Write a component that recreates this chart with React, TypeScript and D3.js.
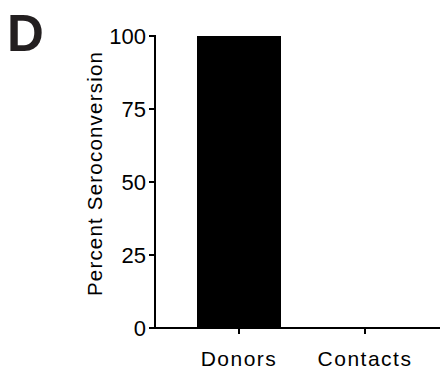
import React from "react";
import * as d3 from "d3";

const categories = ["Donors", "Contacts"];
const values = [100, 0];
const yTicks = [0, 25, 50, 75, 100];
const yLabel = "Percent Seroconversion";
const panelLabel = "D";

export default function App() {
  const W = 440, H = 370;
  const x0 = 155, y0 = 328, yTop = 36;
  const y = d3.scaleLinear().domain([0, 100]).range([y0, yTop]);
  const x = d3.scaleBand<string>().domain(categories).range([x0, x0 + 294]).paddingInner(1 / 3).paddingOuter(1 / 3);
  const font = "'Liberation Sans', Arial, Helvetica, sans-serif";
  return (
    <svg width={W} height={H} style={{ position: "absolute", left: 0, top: 0, background: "#fff" }} fontFamily={font}>
      <text x={7} y={51} fontSize={51} fontWeight="bold" fill="#231f20">{panelLabel}</text>
      {categories.map((c, i) => (
        <rect key={c} x={x(c)} y={y(values[i])} width={x.bandwidth()} height={y0 - y(values[i])} fill="#000" />
      ))}
      <line x1={x0} x2={x0} y1={yTop - 1} y2={y0 + 1} stroke="#000" strokeWidth={2} />
      <line x1={x0 - 1} x2={W} y1={y0} y2={y0} stroke="#000" strokeWidth={2} />
      {yTicks.map(t => (
        <g key={t}>
          <line x1={x0 - 6} x2={x0} y1={y(t)} y2={y(t)} stroke="#000" strokeWidth={2} />
          <text x={x0 - 9} y={y(t)} dy="0.36em" textAnchor="end" fontSize={22} fill="#000">{t}</text>
        </g>
      ))}
      {categories.map(c => {
        const cx = (x(c) as number) + x.bandwidth() / 2;
        return (
          <g key={c}>
            <line x1={cx} x2={cx} y1={y0} y2={y0 + 6} stroke="#000" strokeWidth={2} />
            <text x={cx} y={y0 + 30} dy="0.36em" textAnchor="middle" fontSize={21} letterSpacing={1.5} fill="#000">{c}</text>
          </g>
        );
      })}
      <text transform={`translate(102,${(52 + 295) / 2}) rotate(-90)`} textAnchor="middle" fontSize={20.5} letterSpacing={1.2} fill="#000">{yLabel}</text>
    </svg>
  );
}
